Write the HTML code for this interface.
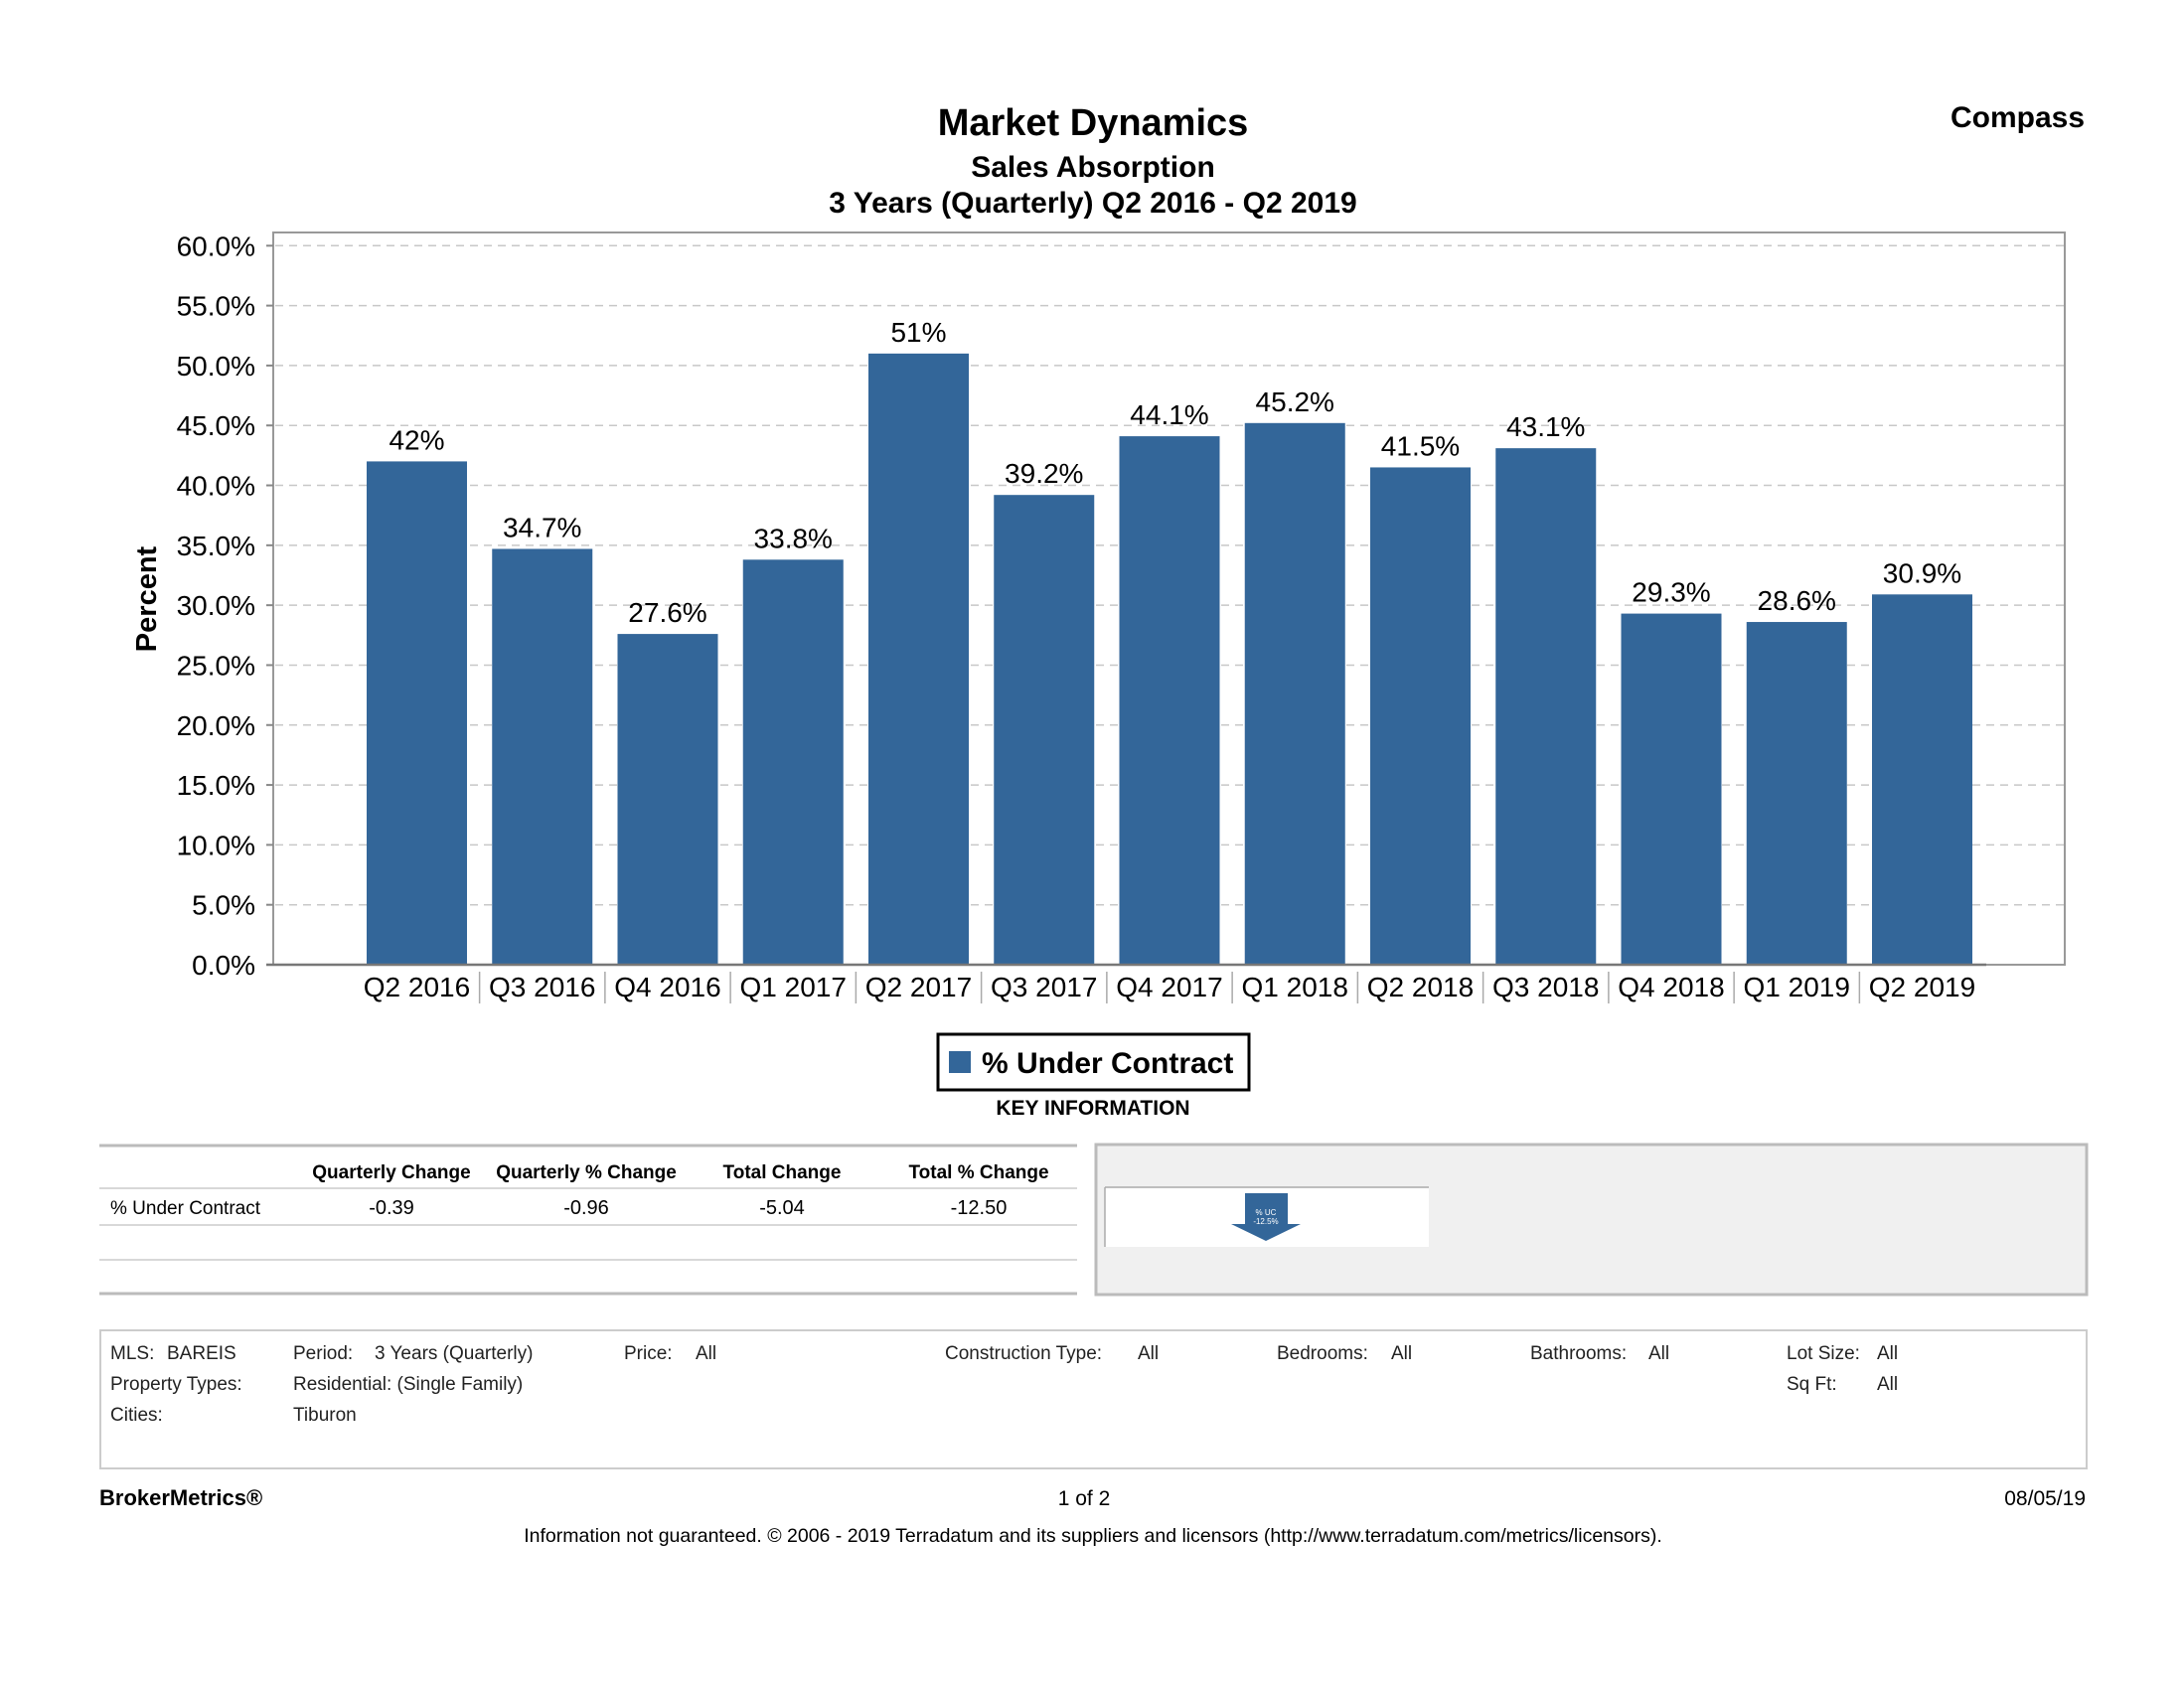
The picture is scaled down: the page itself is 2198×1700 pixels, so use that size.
<!DOCTYPE html>
<html><head><meta charset="utf-8"><style>
html,body{margin:0;padding:0;background:#fff;}
body{width:2198px;height:1700px;position:relative;overflow:hidden;font-family:"Liberation Sans",Arial,sans-serif;}
</style></head><body>
<svg id="chart" width="2198" height="1700" style="position:absolute;left:0;top:0" xmlns="http://www.w3.org/2000/svg" font-family="Liberation Sans, Arial, sans-serif">
<text x="1100" y="136" font-size="38" font-weight="bold" text-anchor="middle">Market Dynamics</text>
<text x="1100" y="178" font-size="30" font-weight="bold" text-anchor="middle">Sales Absorption</text>
<text x="1100" y="214" font-size="30" font-weight="bold" text-anchor="middle">3 Years (Quarterly) Q2 2016 - Q2 2019</text>
<text x="2098" y="128" font-size="30" font-weight="bold" text-anchor="end">Compass</text>
<rect x="275" y="234" width="1803" height="737" fill="none" stroke="#999" stroke-width="2"/>
<g id="grid"></g><g id="bars"></g><g id="xaxis"></g>
<text transform="translate(157,603) rotate(-90)" font-size="29" font-weight="bold" text-anchor="middle">Percent</text>
<rect x="944" y="1041" width="313" height="56" fill="#fff" stroke="#000" stroke-width="3"/>
<rect x="955" y="1058" width="22" height="22" fill="#336699"/>
<text x="988" y="1080" font-size="30" font-weight="bold">% Under Contract</text>
<text x="1100" y="1122" font-size="21" font-weight="bold" text-anchor="middle">KEY INFORMATION</text>
<line x1="100" y1="1153" x2="1084" y2="1153" stroke="#bbb" stroke-width="3"/>
<text x="394" y="1186" font-size="19" font-weight="bold" text-anchor="middle">Quarterly Change</text>
<text x="590" y="1186" font-size="19" font-weight="bold" text-anchor="middle">Quarterly % Change</text>
<text x="787" y="1186" font-size="19" font-weight="bold" text-anchor="middle">Total Change</text>
<text x="985" y="1186" font-size="19" font-weight="bold" text-anchor="middle">Total % Change</text>
<line x1="100" y1="1196" x2="1084" y2="1196" stroke="#ccc" stroke-width="1.5"/>
<text x="111" y="1222" font-size="19">% Under Contract</text>
<text x="394" y="1222" font-size="20" text-anchor="middle">-0.39</text>
<text x="590" y="1222" font-size="20" text-anchor="middle">-0.96</text>
<text x="787" y="1222" font-size="20" text-anchor="middle">-5.04</text>
<text x="985" y="1222" font-size="20" text-anchor="middle">-12.50</text>
<line x1="100" y1="1233" x2="1084" y2="1233" stroke="#ccc" stroke-width="1.5"/>
<line x1="100" y1="1268" x2="1084" y2="1268" stroke="#ccc" stroke-width="1.5"/>
<line x1="100" y1="1302" x2="1084" y2="1302" stroke="#bbb" stroke-width="3"/>
<rect x="1103" y="1152" width="997" height="151" fill="#f0f0f0" stroke="#bbb" stroke-width="3"/>
<rect x="1112" y="1195" width="326" height="60" fill="#fff"/>
<line x1="1112" y1="1195" x2="1438" y2="1195" stroke="#aaa" stroke-width="1.5"/>
<line x1="1112" y1="1195" x2="1112" y2="1255" stroke="#aaa" stroke-width="1.5"/>
<path d="M1253 1201 H1296 V1232 H1309 L1274 1249 L1239 1232 H1253 Z" fill="#336699"/>
<text x="1274" y="1223" font-size="8" fill="#fff" text-anchor="middle">% UC</text>
<text x="1274" y="1232" font-size="8" fill="#fff" text-anchor="middle">-12.5%</text>
<rect x="101" y="1339" width="1999" height="139" fill="none" stroke="#ccc" stroke-width="2"/>
<g font-size="19" fill="#222">
<text x="111" y="1368">MLS:</text><text x="168" y="1368">BAREIS</text><text x="295" y="1368">Period:</text><text x="377" y="1368">3 Years (Quarterly)</text>
<text x="628" y="1368">Price:</text><text x="700" y="1368">All</text>
<text x="951" y="1368">Construction Type:</text><text x="1145" y="1368">All</text>
<text x="1285" y="1368">Bedrooms:</text><text x="1400" y="1368">All</text>
<text x="1540" y="1368">Bathrooms:</text><text x="1659" y="1368">All</text>
<text x="1798" y="1368">Lot Size:</text><text x="1889" y="1368">All</text>
<text x="111" y="1399">Property Types:</text><text x="295" y="1399">Residential: (Single Family)</text>
<text x="1798" y="1399">Sq Ft:</text><text x="1889" y="1399">All</text>
<text x="111" y="1430">Cities:</text><text x="295" y="1430">Tiburon</text>
</g>
<text x="100" y="1515" font-size="22" font-weight="bold">BrokerMetrics®</text>
<text x="1091" y="1515" font-size="21" text-anchor="middle">1 of 2</text>
<text x="2099" y="1515" font-size="21" text-anchor="end">08/05/19</text>
<text x="1100" y="1552" font-size="19.5" text-anchor="middle">Information not guaranteed.  © 2006 - 2019 Terradatum and its suppliers and licensors (http://www.terradatum.com/metrics/licensors).</text>
</svg>
<script>
const categories=["Q2 2016","Q3 2016","Q4 2016","Q1 2017","Q2 2017","Q3 2017","Q4 2017","Q1 2018","Q2 2018","Q3 2018","Q4 2018","Q1 2019","Q2 2019"];
const values=[42,34.7,27.6,33.8,51,39.2,44.1,45.2,41.5,43.1,29.3,28.6,30.9];
const valueLabels=["42%","34.7%","27.6%","33.8%","51%","39.2%","44.1%","45.2%","41.5%","43.1%","29.3%","28.6%","30.9%"];
const yTicks=[0,5,10,15,20,25,30,35,40,45,50,55,60];
const NS="http://www.w3.org/2000/svg";
const y0=971,yTop=247.3,yMax=60;
function yS(v){return y0-(v/yMax)*(y0-yTop);}
const bx0=369,pitch=126.25,bw=101;
function xS(i){return bx0+i*pitch;}
function mk(tag,attrs,parent){const e=document.createElementNS(NS,tag);for(const k in attrs)e.setAttribute(k,attrs[k]);parent.appendChild(e);return e;}
const grid=document.getElementById('grid'),bars=document.getElementById('bars'),xa=document.getElementById('xaxis');
yTicks.forEach(t=>{const y=yS(t);
 if(t>0){const g=mk('line',{x1:277,y1:y,x2:2077,y2:y,stroke:'#c8c8c8','stroke-width':1.5,'stroke-dasharray':'8,6'},grid);
 
 }
 mk('line',{x1:268,y1:y,x2:275,y2:y,stroke:'#888','stroke-width':2},grid);
 const tx=mk('text',{x:257,y:y+10,'font-size':28,'text-anchor':'end'},grid);tx.textContent=t.toFixed(1)+'%';
 
 
});
values.forEach((v,i)=>{const x=xS(i),y=yS(v);
 const r=mk('rect',{x:x,y:y,width:bw,height:y0-y,fill:'#336699'},bars);
 
 
 const l=mk('text',{x:x+bw/2,y:y-12,'font-size':28,'text-anchor':'middle'},bars);l.textContent=valueLabels[i];
 
 
 const c=mk('text',{x:x+bw/2,y:1003,'font-size':28,'text-anchor':'middle'},xa);c.textContent=categories[i];
 
 
 if(i>0){mk('line',{x1:x-(pitch-bw)/2,y1:978,x2:x-(pitch-bw)/2,y2:1010,stroke:'#aaa','stroke-width':1.5},xa);}
});
const ax=mk('line',{x1:268,y1:y0,x2:xS(values.length-1)+bw+14,y2:y0,stroke:'#777','stroke-width':2.5},xa);


</script>
</body></html>
